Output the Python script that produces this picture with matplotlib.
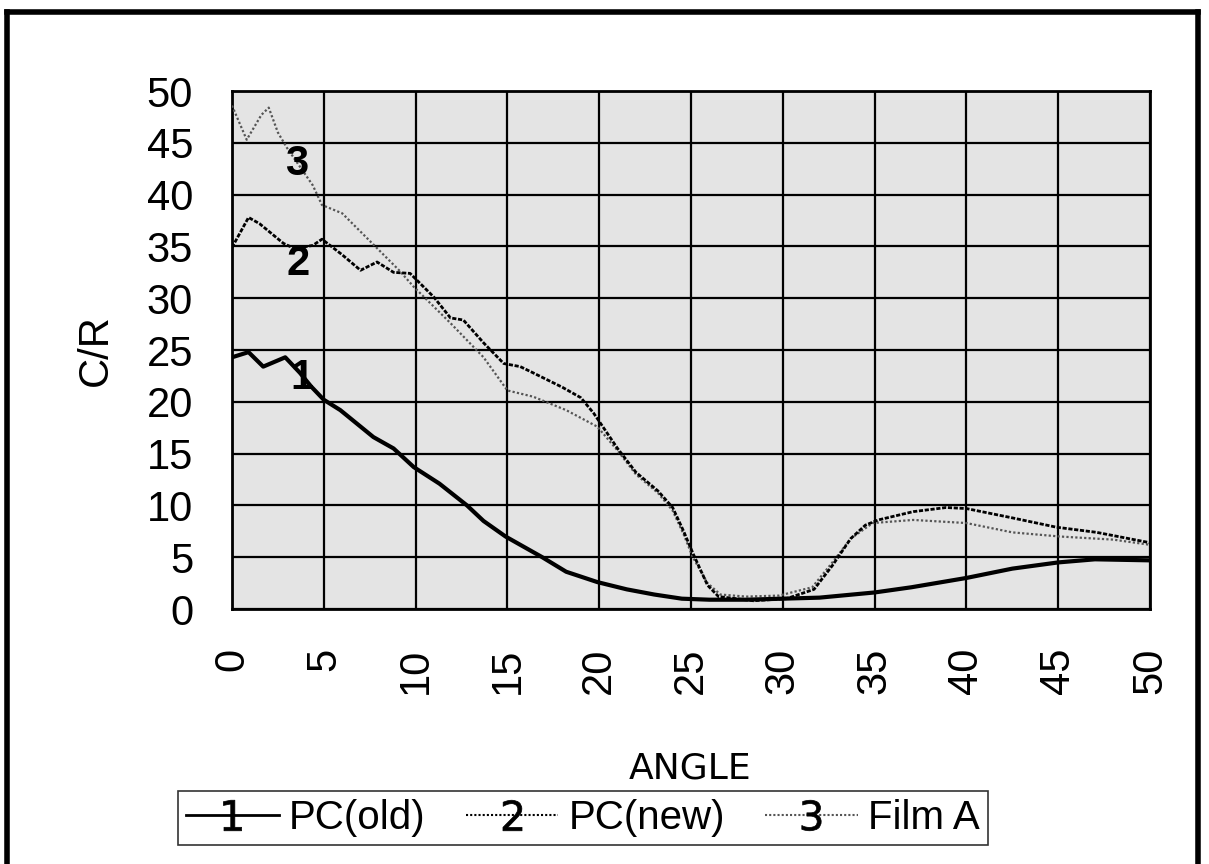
import matplotlib
matplotlib.use("Agg")
import matplotlib.pyplot as plt
from matplotlib.lines import Line2D

plt.rcParams['font.family'] = ['Liberation Sans', 'DejaVu Sans']

# PC(old)
x1 = [0, 0.9, 1.7, 2.9, 3.7, 4.3, 5, 5.9, 7.7, 8.8, 9.9, 11.3, 12.8, 13.7, 14.9,
      16.9, 18.2, 19.9, 21.5, 23, 24.5, 26, 28, 30, 32, 33.5, 35, 37, 40, 42.5,
      45, 47, 50]
y1 = [24.3, 24.8, 23.4, 24.3, 22.8, 21.5, 20.2, 19.2, 16.6, 15.5, 13.7, 12.1, 10.0,
      8.5, 7.0, 5.0, 3.6, 2.6, 1.9, 1.4, 1.0, 0.9, 0.9, 1.0, 1.1, 1.35, 1.6, 2.1,
      3.0, 3.9, 4.5, 4.8, 4.7]

# PC(new)
x2 = [0, 0.9, 1.5, 2.8, 3.4, 4.4, 4.9, 6, 7, 7.9, 8.8, 9.7, 11, 11.9, 12.6, 13.7,
      14.8, 15.7, 16.4, 18, 19, 19.7, 21, 22, 23.2, 24, 24.6, 25.1, 25.9, 26.5,
      28.4, 30.2, 31.7, 32.7, 33.7, 34.5, 35.2, 37.1, 38.9, 40, 42.5, 44.9, 47.1, 50]
y2 = [34.9, 37.8, 37.2, 35.3, 34.8, 35.1, 35.7, 34.2, 32.7, 33.5, 32.5, 32.4, 30.1,
      28.1, 27.9, 25.7, 23.7, 23.4, 22.8, 21.4, 20.4, 18.9, 15.5, 13.2, 11.4, 9.8,
      7.5, 5.4, 2.3, 1.2, 0.8, 1.0, 1.9, 4.2, 6.8, 8.1, 8.6, 9.4, 9.8, 9.7, 8.8,
      7.9, 7.4, 6.4]

# Film A
x3 = [0, 0.8, 1.6, 2.0, 2.5, 3.0, 4.4, 4.9, 6, 7.3, 9.1, 9.9, 11.9, 13.7, 15, 16.4,
      18.2, 19.9, 21, 22, 23.2, 24, 24.6, 25.1, 25.9, 26.6, 28, 29.8, 31.6, 32.7,
      33.7, 34.9, 37.1, 40, 42.5, 45.1, 48, 50]
y3 = [48.6, 45.3, 47.7, 48.4, 46.0, 44.5, 40.9, 39.0, 38.2, 35.9, 32.7, 31.1, 27.6,
      24.3, 21.1, 20.5, 19.2, 17.6, 15.3, 13.0, 11.2, 9.5, 7.2, 5.0, 2.5, 1.4, 1.2,
      1.3, 2.1, 4.5, 6.8, 8.3, 8.6, 8.3, 7.4, 7.0, 6.7, 6.2]

names = ['PC(old)', 'PC(new)', 'Film A']
ticks = list(range(0, 51, 5))

fig = plt.figure(figsize=(12.09, 8.64), dpi=100)
ax = fig.add_axes([0.1919, 0.2951, 0.7593, 0.5995])
ax.set_facecolor('#e4e4e4')

ax.plot(x3, y3, color='#555555', lw=1.6, ls=(0, (1, 1)), zorder=3)
ax.plot(x2, y2, color='black', lw=2.0, ls=(0, (1.5, 0.6)), zorder=4)
ax.plot(x1, y1, color='black', lw=3.0, zorder=5)

ax.text(3.5, 43, '3', fontsize=30, fontweight='bold', ha='center', va='center', zorder=6)
ax.text(3.6, 33.3, '2', fontsize=30, fontweight='bold', ha='center', va='center', zorder=6)
ax.text(3.8, 22.3, '1', fontsize=30, fontweight='bold', ha='center', va='center', zorder=6)

ax.set_xlim(0, 50)
ax.set_ylim(0, 50)
ax.set_xticks(ticks)
ax.set_yticks(ticks)
ax.set_xticklabels([str(t) for t in ticks], rotation=90, fontsize=30)
ax.set_yticklabels([str(t) for t in ticks], fontsize=30)
ax.tick_params(length=0, pad=28)
ax.grid(True, color='black', lw=1.6)
ax.set_axisbelow(True)
for s in ax.spines.values():
    s.set_linewidth(2)

ax.set_ylabel('C/R', fontsize=30, labelpad=22)
fig.text(0.571, 0.11, 'ANGLE', fontsize=26, ha='center', va='center',
         family=['Liberation Sans Narrow', 'DejaVu Sans'])

handles = [
    Line2D([], [], color='black', lw=2, marker='$1$', markersize=22, markeredgewidth=0.5),
    Line2D([], [], color='black', lw=1.5, ls=(0, (1, 1)), marker='$2$', markersize=22,
           markeredgewidth=0.5),
    Line2D([], [], color='#555555', lw=1.5, ls=(0, (1, 1)), marker='$3$', markersize=22,
           markeredgewidth=0.5, markerfacecolor='black', markeredgecolor='black'),
]
leg = fig.legend(handles, names, loc='center', bbox_to_anchor=(0.482, 0.053), ncol=3,
                 fontsize=29, frameon=True, fancybox=False, handlelength=2.3,
                 handletextpad=0.25, columnspacing=1.0, borderpad=0.2)
leg.get_frame().set_edgecolor('black')
leg.get_frame().set_linewidth(1.2)

# outer frame
fig.add_artist(Line2D([0.006, 0.006], [0.0, 0.986], color='black', lw=4))
fig.add_artist(Line2D([0.006, 0.991], [0.986, 0.986], color='black', lw=4))
fig.add_artist(Line2D([0.991, 0.991], [0.0, 0.986], color='black', lw=4))

fig.savefig('out.png', dpi=100)
